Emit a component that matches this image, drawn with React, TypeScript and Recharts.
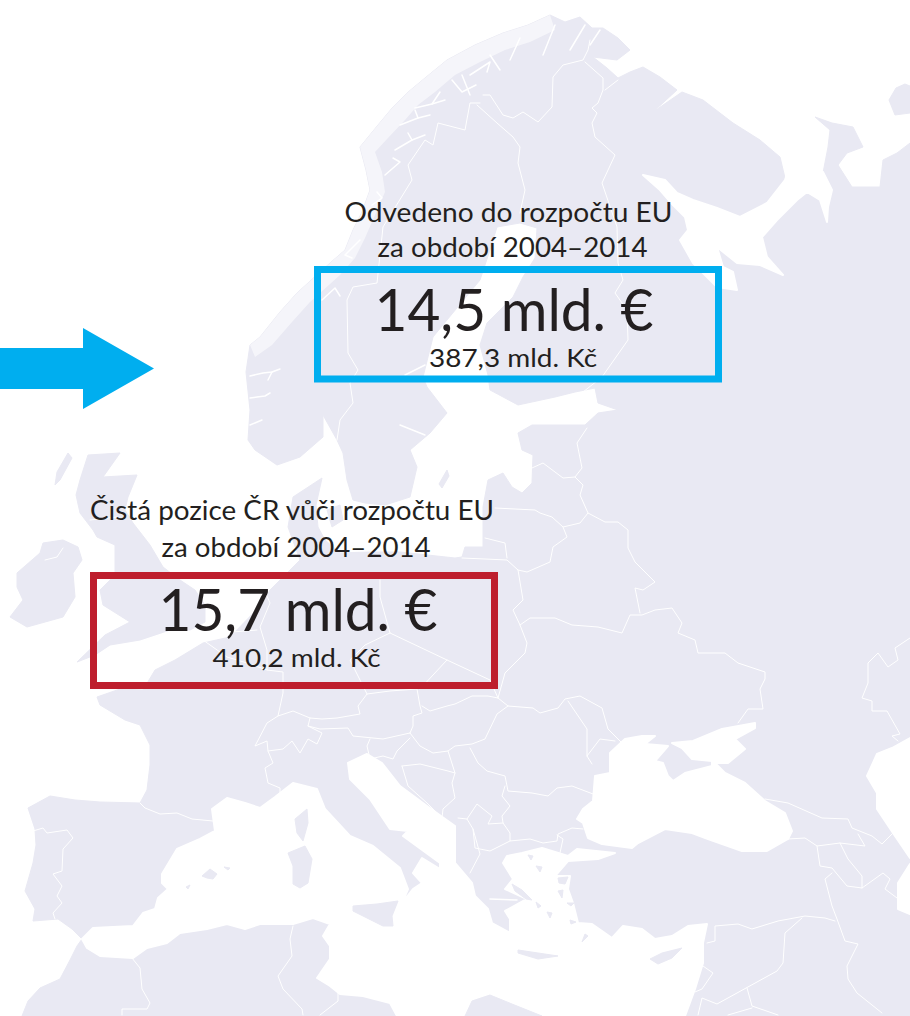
import React from 'react';
import { ScatterChart, Scatter, XAxis, YAxis } from 'recharts';

type Pt = [number, number];

const LAND = '#e9e9f3';
const SEA = '#ffffff';
const INK = '#231f20';
const BLUE = '#00aeef';
const RED = '#be1e2d';

// outline, clockwise from the south tip of Norway
const europeOutline: Pt[] = [
  [277, 465], [255, 450], [248, 440], [250, 410], [246, 372], [250, 345], [260, 337], [280, 312], [297, 293], [330, 263], [345, 250], [353, 230],
  [362, 212], [370, 190], [366, 170], [360, 147], [378, 125], [393, 107], [407, 93], [425, 78], [447, 60], [475, 45], [503, 33], [528, 25], [550, 15],
  [565, 22], [580, 17], [592, 28], [603, 28], [618, 38], [630, 50], [617, 60], [593, 57], [607, 68], [618, 78], [630, 72], [643, 67], [660, 77],
  [677, 90], [653, 112], [682, 92], [703, 100], [733, 123], [760, 140], [780, 157], [785, 178], [800, 190], [823, 173], [828, 147], [830, 130],
  [815, 117], [832, 123], [853, 127], [863, 147], [847, 153], [838, 165], [852, 187], [880, 187], [883, 160], [897, 153], [910, 143],
  [910, 1016], [22, 1016], [28, 1001], [40, 988], [60, 979], [70, 960], [77, 946], [82, 939], [72, 929], [58, 919], [33, 921], [35, 909], [25, 891],
  [33, 863], [36, 845], [35, 829], [28, 808], [50, 796], [75, 800], [100, 802], [140, 803], [147, 790], [150, 765], [150, 745], [140, 725], [125, 720],
  [100, 705], [97, 697], [120, 689], [143, 690], [155, 670], [175, 660], [203, 643], [230, 637], [263, 603], [270, 590], [300, 560], [288, 527],
  [293, 497], [322, 478], [316, 505], [318, 527], [325, 540], [340, 553], [370, 552], [400, 552], [455, 558], [462, 557], [465, 547], [483, 547],
  [483, 537], [483, 507], [488, 480], [503, 473], [512, 487], [522, 493], [532, 483], [533, 455], [522, 450], [518, 433], [532, 425], [585, 425],
  [598, 413], [618, 410], [598, 403], [595, 388], [575, 392], [555, 397], [518, 405], [490, 390], [488, 375], [480, 345], [487, 323], [513, 297],
  [523, 277], [535, 258], [537, 228], [520, 223], [497, 227], [490, 250], [480, 280], [447, 320], [433, 337], [423, 377], [427, 387], [447, 413],
  [430, 433], [410, 450], [417, 467], [410, 497], [385, 505], [365, 503], [353, 500], [347, 480], [343, 453], [337, 440], [323, 415], [323, 437], [300, 457],
];

const mediterranean: Pt[] = [
  [82, 939], [93, 928], [133, 926], [143, 913], [155, 909], [158, 898], [168, 889], [162, 883], [162, 874], [177, 849], [200, 839], [215, 831], [212, 809],
  [227, 798], [245, 803], [260, 808], [275, 797], [293, 783], [317, 789], [325, 809], [350, 836], [373, 846], [400, 868], [408, 889], [402, 903], [413, 889],
  [422, 883], [413, 873], [422, 858], [440, 869], [440, 863], [403, 836], [408, 831], [390, 829], [370, 799], [350, 779], [348, 763], [367, 754], [382, 763],
  [400, 786], [427, 806], [455, 826], [455, 863], [472, 883], [475, 896], [488, 909], [492, 923], [510, 933], [510, 919], [505, 911], [527, 899], [505, 889],
  [513, 879], [503, 863], [507, 856], [522, 853], [542, 848], [568, 856], [577, 849], [615, 853], [598, 859], [568, 861], [555, 876], [570, 876], [568, 889],
  [573, 903], [578, 923], [592, 924], [612, 938], [623, 926], [642, 929], [655, 939], [672, 936], [688, 926], [707, 924], [703, 943], [703, 963], [695, 989],
  [685, 1016], [397, 1016], [390, 1003], [363, 996], [340, 994], [330, 986], [317, 978], [330, 959], [330, 946], [323, 936], [330, 924], [313, 918], [293, 924],
  [260, 924], [245, 929], [227, 924], [207, 929], [180, 933], [167, 943], [147, 948], [133, 958], [100, 956], [87, 948],
];

const blackSea: Pt[] = [
  [577, 819], [583, 809], [593, 801], [595, 776], [610, 773], [610, 753], [625, 739], [642, 736], [655, 736], [645, 744], [668, 746], [655, 761], [663, 763],
  [668, 776], [673, 781], [685, 773], [712, 766], [712, 761], [692, 759], [682, 748], [672, 743], [693, 741], [722, 729], [755, 723], [755, 728], [735, 739],
  [745, 749], [728, 763], [715, 763], [725, 773], [745, 783], [765, 801], [785, 813], [792, 831], [788, 839], [767, 851], [742, 851], [708, 839], [692, 833],
  [665, 829], [638, 843], [632, 848], [602, 844], [588, 838], [583, 823],
];

const caspianNorth: Pt[] = [[910, 738], [892, 748], [877, 754], [867, 776], [877, 793], [877, 809], [893, 833], [910, 858]];
const caspianSouth: Pt[] = [[910, 864], [898, 883], [898, 909], [910, 914]];

const whiteSea: Pt[] = [
  [643, 175], [665, 180], [677, 193], [693, 200], [717, 208], [740, 217], [767, 203], [785, 180], [790, 165], [823, 172], [832, 190], [828, 207], [827, 222],
  [820, 200], [807, 192], [797, 200], [777, 220], [762, 237], [767, 257], [783, 275], [760, 265], [737, 263], [717, 247], [723, 267], [733, 272], [737, 290],
  [717, 287], [693, 263], [680, 240], [688, 230], [685, 217], [673, 205], [660, 190],
];

const corsica: Pt[] = [[307, 809], [308, 823], [303, 841], [297, 833], [295, 819]];
const sardinia: Pt[] = [[305, 846], [312, 859], [308, 883], [300, 888], [293, 884], [293, 866], [288, 853]];
const sicily: Pt[] = [[353, 906], [377, 904], [398, 901], [392, 916], [393, 926], [383, 926], [367, 918], [353, 911]];
const mallorca: Pt[] = [[202, 876], [210, 869], [217, 874], [213, 879], [207, 878]];
const menorca: Pt[] = [[224, 867], [230, 868], [228, 870]];
const ibiza: Pt[] = [[186, 887], [190, 885], [188, 889]];
const crete: Pt[] = [[518, 950], [538, 953], [558, 956], [538, 959], [518, 953]];
const cyprus: Pt[] = [[650, 959], [662, 953], [682, 948], [672, 958], [658, 964]];
const rhodes: Pt[] = [[585, 934], [588, 936], [582, 942]];
const cyrenaica: Pt[] = [[465, 1016], [472, 1001], [490, 995], [512, 1004], [542, 1016]];
const ireland: Pt[] = [[17, 573], [40, 553], [43, 543], [63, 540], [78, 547], [82, 560], [73, 573], [75, 597], [63, 617], [27, 627], [10, 617], [23, 600], [17, 587]];
const britain: Pt[] = [
  [88, 455], [120, 453], [103, 477], [137, 475], [128, 497], [125, 510], [133, 523], [150, 545], [163, 567], [180, 580], [195, 590], [205, 605], [205, 622],
  [190, 630], [170, 630], [140, 640], [110, 645], [95, 655], [77, 662], [105, 635], [130, 622], [103, 605], [100, 590], [115, 575], [115, 545], [97, 537], [93, 530],
  [80, 513], [76, 495], [80, 480],
];
const hebrides: Pt[] = [[68, 453], [72, 458], [60, 480], [55, 485], [57, 472]];
const gotland: Pt[] = [[447, 470], [449, 476], [442, 488], [439, 484]];
const zealand: Pt[] = [[327, 510], [340, 505], [343, 520], [332, 527]];
const kolguev: Pt[] = [[896, 88], [905, 84], [910, 86], [910, 113], [895, 115], [889, 100]];
const thasos: Pt[] = [[528, 855], [533, 856], [531, 860]];
const lemnos: Pt[] = [[536, 866], [542, 867], [540, 872]];
const lesbos: Pt[] = [[558, 878], [568, 877], [565, 884], [559, 883]];
const chios: Pt[] = [[558, 891], [563, 890], [562, 898]];
const samos: Pt[] = [[567, 903], [574, 903], [571, 906]];
const euboea: Pt[] = [[512, 884], [522, 890], [532, 900], [526, 899], [515, 891]];
const andros: Pt[] = [[536, 902], [541, 906], [538, 908]];
const naxos: Pt[] = [[547, 912], [552, 913], [550, 918]];
const kos: Pt[] = [[570, 920], [576, 922], [571, 924]];

const landIslands: Pt[][] = [
  corsica, sardinia, sicily, mallorca, menorca, ibiza, crete, cyprus, rhodes, cyrenaica, ireland, britain, hebrides, gotland, zealand,
  thasos, lemnos, lesbos, chios, samos, euboea, andros, naxos, kos,
];

// pale band along the Norwegian coast, the islands there wash out in the picture
const norwayFringe: Pt[] = [
  [250, 345], [260, 337], [280, 312], [297, 293], [330, 263], [345, 250], [353, 230], [362, 212], [370, 190], [366, 170], [360, 147], [378, 125], [393, 107],
  [407, 93], [425, 78], [447, 60], [475, 45], [503, 33], [528, 25], [550, 15], [555, 30], [530, 42], [505, 50], [480, 62], [455, 75], [435, 92], [418, 105],
  [405, 120], [388, 138], [375, 152], [382, 172], [385, 192], [375, 215], [365, 238], [355, 258], [340, 275], [310, 302], [292, 322], [272, 345], [255, 357],
];

// coast fjords and inlets, thin white cuts
const fjords: Pt[][] = [
  [[250, 376], [263, 373], [272, 372], [280, 369]], [[272, 372], [268, 380]], [[250, 398], [257, 397], [265, 396], [270, 393]], [[250, 425], [262, 420]],
  [[322, 300], [335, 288], [340, 296]], [[360, 240], [345, 255], [352, 258]], [[372, 205], [382, 198], [377, 192]], [[385, 175], [400, 162], [393, 158]],
  [[395, 150], [412, 140], [425, 135]], [[412, 140], [408, 133]], [[400, 125], [418, 118], [430, 115]], [[418, 118], [415, 110]], [[415, 108], [432, 104], [445, 100]],
  [[432, 104], [440, 92]], [[452, 80], [462, 92], [476, 85]], [[462, 75], [470, 95]], [[470, 75], [490, 62], [487, 72]], [[490, 55], [500, 70]], [[520, 38], [510, 60]],
  [[555, 25], [543, 55]], [[585, 25], [570, 50]], [[600, 30], [590, 45]], [[478, 540], [470, 545]], [[490, 899], [517, 900]], [[405, 375], [425, 365]], [[425, 435], [400, 425]],
];

const borders: Pt[][] = [
  [[337, 440], [340, 420], [353, 403], [350, 383], [358, 370], [348, 353], [347, 300], [353, 287], [377, 283], [383, 227], [412, 180], [408, 165], [425, 140], [433, 145], [438, 123], [465, 130], [470, 103], [480, 103]],
  [[477, 105], [497, 123], [513, 137], [520, 147], [518, 163], [525, 190], [520, 213]],
  [[483, 95], [490, 95], [503, 115], [513, 118], [523, 112], [538, 122], [552, 107], [553, 77], [563, 65], [583, 60], [588, 50], [590, 40]],
  [[585, 62], [603, 78], [603, 90], [598, 103], [592, 108], [597, 113], [592, 123], [595, 137], [615, 155], [602, 183], [617, 227], [618, 263], [623, 280], [615, 293], [627, 310], [628, 340], [602, 377], [583, 392]],
  [[605, 90], [618, 80]],
  [[587, 428], [577, 443], [582, 468], [575, 477], [583, 485], [580, 495], [588, 513]],
  [[532, 468], [543, 463], [563, 478], [575, 477]],
  [[495, 508], [535, 510], [540, 513], [552, 517], [563, 527], [580, 523], [588, 513], [605, 522], [618, 522], [628, 530], [628, 548], [635, 562], [655, 582], [643, 590], [635, 588], [640, 613]],
  [[563, 527], [567, 537], [553, 547], [550, 562], [527, 572], [518, 570]],
  [[485, 538], [505, 543], [507, 558]],
  [[462, 558], [507, 560], [518, 570], [523, 600], [513, 610], [520, 625], [527, 643], [525, 653], [505, 673], [498, 698]],
  [[520, 625], [530, 618], [555, 618], [572, 625], [598, 627], [622, 633], [630, 615], [642, 615], [655, 610], [672, 608], [682, 623], [678, 633], [695, 640], [698, 653], [725, 653], [738, 663], [765, 672], [765, 679], [760, 689], [763, 709], [748, 709], [738, 723]],
  [[422, 706], [430, 711], [447, 706], [455, 704], [472, 696], [488, 696], [498, 698], [508, 706], [533, 708], [540, 713], [558, 708], [565, 699], [580, 696], [602, 708], [608, 729], [622, 743]],
  [[568, 701], [587, 729], [587, 756], [592, 764]],
  [[587, 756], [600, 739], [615, 741]],
  [[508, 706], [497, 714], [485, 739], [472, 744], [455, 746], [448, 751], [433, 753], [420, 746], [410, 733]],
  [[470, 748], [478, 763], [487, 771], [505, 776], [508, 791], [532, 793], [548, 796], [557, 788], [572, 786], [593, 794]],
  [[505, 786], [502, 796], [510, 806], [502, 816], [503, 823], [510, 833], [510, 841], [530, 839], [543, 843], [557, 841], [558, 834], [572, 828], [583, 829]],
  [[557, 835], [563, 839], [560, 853]],
  [[473, 829], [475, 848], [490, 851], [510, 841]],
  [[467, 819], [477, 804], [492, 816], [488, 824], [503, 823]],
  [[458, 818], [467, 819], [473, 829], [480, 854], [470, 873]],
  [[380, 580], [380, 597], [390, 633], [447, 660], [490, 680], [498, 698]],
  [[390, 633], [365, 645], [350, 660], [367, 694]],
  [[263, 587], [270, 603], [260, 627], [267, 650], [267, 670], [283, 672], [283, 693], [278, 716], [267, 723], [255, 746], [267, 741], [268, 751], [273, 763], [265, 768], [268, 783], [280, 788], [280, 793]],
  [[203, 640], [227, 657], [247, 663], [267, 670]],
  [[220, 633], [257, 630]],
  [[268, 751], [283, 749], [292, 741], [300, 753], [308, 739], [317, 744], [322, 733], [308, 726], [310, 718]],
  [[278, 716], [293, 711], [310, 718], [322, 719], [337, 718], [360, 714], [358, 706], [367, 694], [390, 691], [417, 689], [420, 706], [422, 713], [413, 716], [413, 726], [410, 733]],
  [[308, 726], [320, 729], [348, 728], [353, 736], [383, 739], [410, 733]],
  [[420, 689], [447, 660]],
  [[370, 739], [367, 746], [370, 759], [383, 756], [393, 759], [397, 751], [410, 738]],
  [[402, 766], [420, 764], [448, 771], [455, 773]],
  [[402, 766], [408, 786], [427, 803], [442, 818]],
  [[448, 751], [455, 773], [452, 783], [455, 798], [443, 809], [442, 818]],
  [[140, 803], [145, 808], [160, 814], [177, 813], [192, 819], [213, 821]],
  [[33, 831], [43, 828], [47, 833], [67, 830], [73, 838], [63, 849], [62, 871], [53, 874], [62, 886], [57, 896], [62, 903], [53, 913], [55, 919]],
  [[132, 958], [140, 968], [142, 989], [150, 1003], [147, 1009], [122, 1009], [122, 1015]],
  [[293, 926], [290, 939], [292, 956], [278, 976], [283, 989], [302, 1009], [303, 1015]],
  [[338, 991], [338, 1001], [320, 1015]],
  [[45, 560], [57, 557], [63, 548]],
  [[90, 520], [117, 517]],
  [[788, 839], [805, 838], [817, 846], [840, 843], [865, 846], [858, 834]],
  [[765, 799], [788, 803], [822, 818], [848, 819], [852, 828], [872, 836], [882, 844], [893, 833]],
  [[840, 843], [848, 859], [862, 876], [862, 888]],
  [[817, 846], [820, 866], [832, 868], [847, 886], [862, 888], [883, 873], [890, 879], [885, 889], [897, 898]],
  [[832, 873], [825, 879], [832, 906], [837, 919], [845, 941], [858, 944], [847, 966], [848, 979], [857, 993], [882, 1013]],
  [[910, 638], [895, 648], [898, 660], [888, 667], [878, 653], [868, 663], [868, 683], [862, 698], [872, 701], [872, 711], [887, 711], [900, 734], [892, 736], [898, 741]],
  [[707, 943], [715, 941], [715, 926], [738, 924], [752, 929], [778, 921], [805, 916], [825, 918], [835, 921]],
  [[802, 918], [785, 933], [783, 963], [777, 971], [717, 1004], [702, 998], [698, 1015]],
  [[747, 988], [752, 1006], [778, 1015]],
  [[703, 966], [713, 973], [702, 989], [695, 992]],
  [[728, 1015], [752, 1008]],
];

const arrowOutline: Pt[] = [[0, 348], [83, 348], [83, 328], [154, 368.5], [83, 409], [83, 389], [0, 389]];
const blueBox: Pt[] = [[317.5, 269.5], [718.5, 269.5], [718.5, 379], [317.5, 379]];
const redBox: Pt[] = [[93.5, 575.5], [494.5, 575.5], [494.5, 685.5], [93.5, 685.5]];

const labelTexts = [
  'Odvedeno do rozpočtu EU', 'za období 2004–2014', '14,5 mld. €', '387,3 mld. Kč',
  'Čistá pozice ČR vůči rozpočtu EU', 'za období 2004–2014', '15,7 mld. €', '410,2 mld. Kč',
];
const labelAnchors: Pt[] = [[508.5, 222], [512.5, 257], [514, 331], [513, 367], [292, 520], [296, 557], [298, 631], [296.5, 667]];
const labelSizes = [26, 26, 59, 25, 26, 26, 59, 25];
const labelWidths = [328, 270, 279, 168, 404, 269, 279, 168];

const toPoints = (pts: Pt[]) => pts.map(([x, y]) => ({ x, y }));
const labelData = labelTexts.map((text, i) => ({
  x: labelAnchors[i][0],
  y: labelAnchors[i][1],
  text,
  size: labelSizes[i],
  width: labelWidths[i],
}));

const pathOf = (points: { x: number; y: number }[], close: boolean) =>
  points.map((p, i) => `${i === 0 ? 'M' : 'L'}${p.x},${p.y}`).join(' ') + (close ? ' Z' : '');

const noDot = () => <g />;

// the series line is used as a filled outline, so every shape goes through the chart's scales
const filled = (fill: string, stroke = fill, strokeWidth = 1, opacity = 1) => (props: any) => (
  <path d={pathOf(props.points, true)} fill={fill} fillOpacity={opacity} stroke={stroke} strokeWidth={strokeWidth} strokeLinejoin="round" />
);
const open = (stroke: string, strokeWidth: number) => (props: any) => (
  <path d={pathOf(props.points, false)} fill="none" stroke={stroke} strokeWidth={strokeWidth} strokeLinejoin="round" strokeLinecap="round" />
);
const frame = (stroke: string) => (props: any) => (
  <path d={pathOf(props.points, true)} fill="none" stroke={stroke} strokeWidth={7} strokeLinejoin="miter" />
);

const LabelMark = (props: any) => {
  const { cx, cy, payload } = props;
  return (
    <text
      x={cx}
      y={cy}
      textAnchor="middle"
      fontFamily="Lato, 'Open Sans', sans-serif"
      fontSize={payload.size}
      fill={INK}
      textLength={payload.width}
      lengthAdjust="spacingAndGlyphs"
    >
      {payload.text}
    </text>
  );
};

export default function App() {
  const seas = [mediterranean, blackSea, caspianNorth, caspianSouth, whiteSea];
  return (
    <div style={{ position: 'absolute', left: 0, top: 0, width: 910, height: 1016, background: '#fff' }}>
      <ScatterChart width={910} height={1016} margin={{ top: 0, right: 0, bottom: 0, left: 0 }}>
        <XAxis type="number" dataKey="x" domain={[0, 910]} hide />
        <YAxis type="number" dataKey="y" domain={[0, 1016]} reversed hide />

        <Scatter data={toPoints(europeOutline)} shape={noDot} line={filled(LAND)} isAnimationActive={false} />
        {seas.map((sea, i) => (
          <Scatter key={`sea-${i}`} data={toPoints(sea)} shape={noDot} line={filled(SEA, SEA, 2)} isAnimationActive={false} />
        ))}
        <Scatter data={toPoints(kolguev)} shape={noDot} line={filled(LAND)} isAnimationActive={false} />
        {landIslands.map((isle, i) => (
          <Scatter key={`isle-${i}`} data={toPoints(isle)} shape={noDot} line={filled(LAND)} isAnimationActive={false} />
        ))}
        <Scatter data={toPoints(norwayFringe)} shape={noDot} line={filled(SEA, 'none', 0, 0.55)} isAnimationActive={false} />
        {fjords.map((cut, i) => (
          <Scatter key={`fjord-${i}`} data={toPoints(cut)} shape={noDot} line={open(SEA, 1.5)} isAnimationActive={false} />
        ))}
        {borders.map((border, i) => (
          <Scatter key={`border-${i}`} data={toPoints(border)} shape={noDot} line={open(SEA, 1)} isAnimationActive={false} />
        ))}

        <Scatter data={toPoints(arrowOutline)} shape={noDot} line={filled(BLUE, BLUE, 0)} isAnimationActive={false} />
        <Scatter data={toPoints(blueBox)} shape={noDot} line={frame(BLUE)} isAnimationActive={false} />
        <Scatter data={toPoints(redBox)} shape={noDot} line={frame(RED)} isAnimationActive={false} />
        <Scatter data={labelData} shape={<LabelMark />} isAnimationActive={false} />
      </ScatterChart>
    </div>
  );
}
